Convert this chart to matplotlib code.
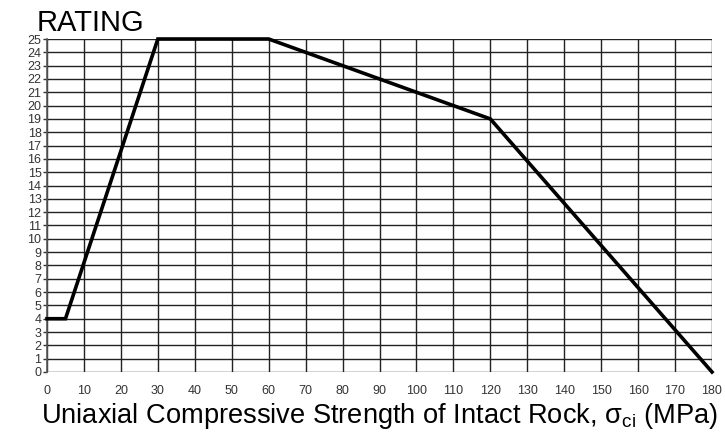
import matplotlib.pyplot as plt
import numpy as np

plt.rcParams["font.family"] = ["Liberation Sans", "DejaVu Sans"]
plt.rcParams["mathtext.fontset"] = "custom"
plt.rcParams["mathtext.rm"] = "Liberation Sans"

# Rating curve for uniaxial compressive strength
strength = [0, 5, 30, 60, 120, 180]
rating = [4, 4, 25, 25, 19, 0]

x_ticks = np.arange(0, 181, 10)
y_ticks = np.arange(0, 26, 1)

fig = plt.figure(figsize=(7.25, 4.34), dpi=100)
ax = fig.add_axes([47 / 725, 1 - 372 / 434, (712 - 47) / 725, (372 - 39) / 434])

ax.plot(strength, rating, color="black", linewidth=2.6, solid_joinstyle="miter", clip_on=False, zorder=3)

ax.set_xlim(0, 180)
ax.set_ylim(0, 25)
ax.set_xticks(x_ticks)
ax.set_yticks(y_ticks)
ax.tick_params(axis="both", labelsize=9, colors="#333333", length=3, width=1)
ax.tick_params(axis="x", length=0, pad=9)
ax.tick_params(axis="y", pad=1)
ax.grid(True, color="#222222", linewidth=1)
for s in ["top", "right", "bottom"]:
    ax.spines[s].set_visible(False)
ax.spines["left"].set_color("#555555")
ax.spines["left"].set_linewidth(1.2)

ax.set_xlabel("Uniaxial Compressive Strength of Intact Rock, σ$_{\\mathrm{ci}}$ (MPa)",
              fontsize=19.6, labelpad=3)
fig.text(37 / 725, 1 - 23 / 434, "RATING", fontsize=21, va="center", ha="left")

fig.savefig("out.png", dpi=100)
